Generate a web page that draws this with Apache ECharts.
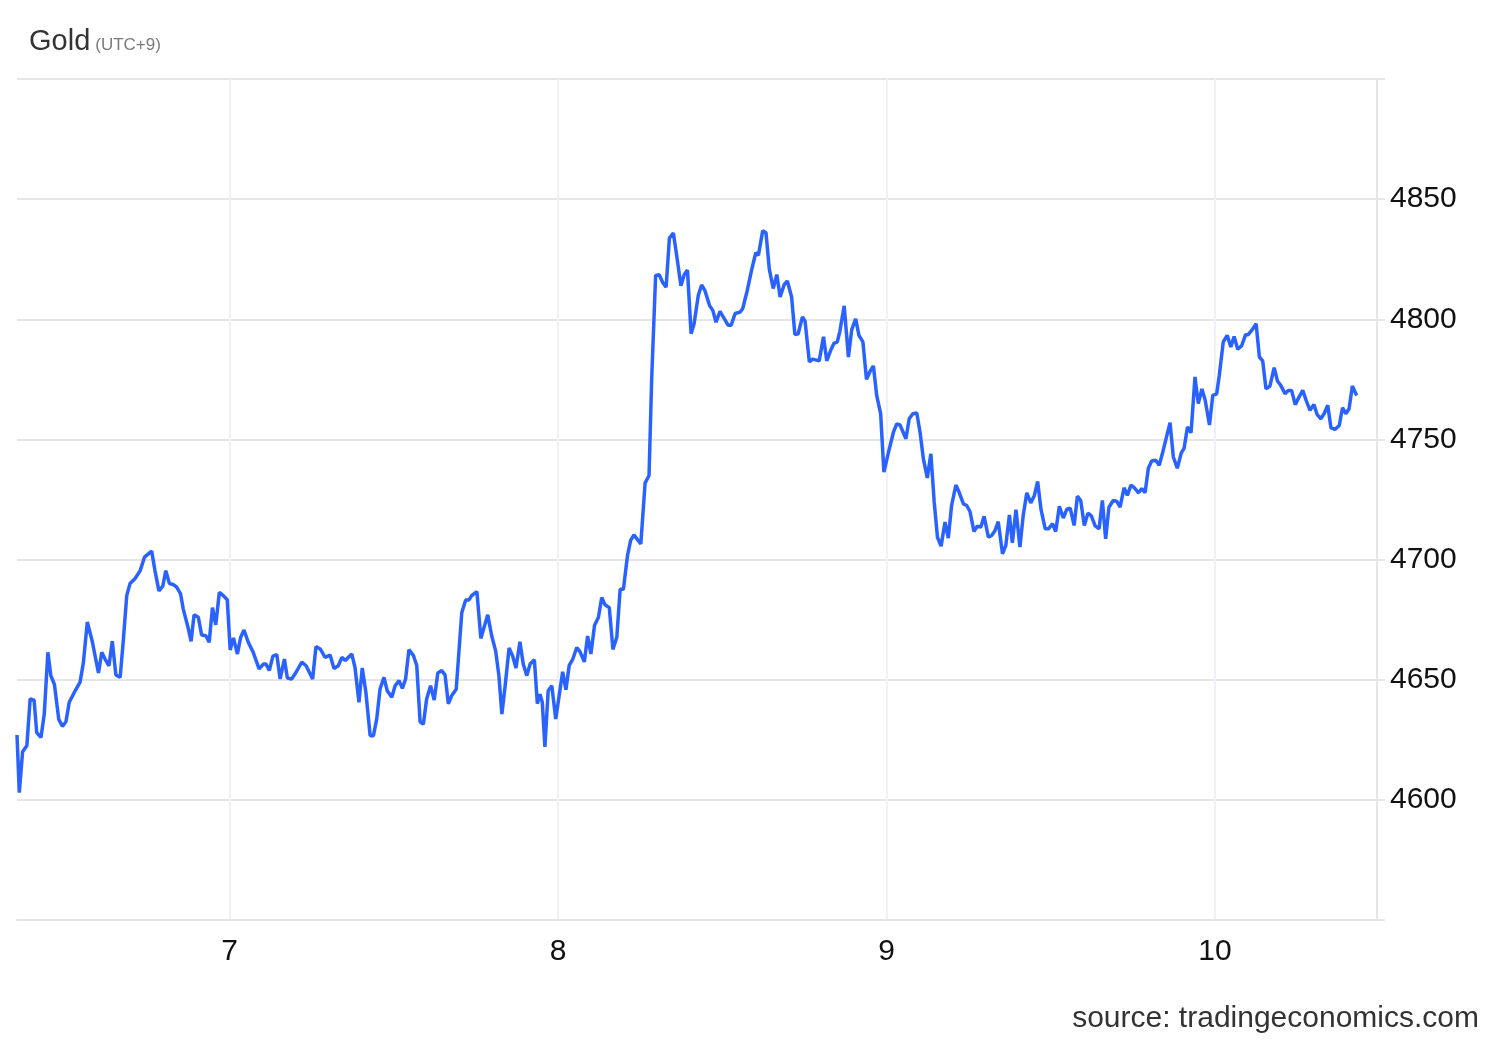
<!DOCTYPE html>
<html>
<head>
<meta charset="utf-8">
<script src="https://cdn.jsdelivr.net/npm/echarts@6/dist/echarts.min.js"></script>
<style>
html,body{margin:0;padding:0;background:#fff;}
#chart{width:1500px;height:1040px;}
</style>
</head>
<body>
<div id="chart"></div>
<script>
// x values: day of month (fractional), y values: gold price
const times = [
6.353,6.360,6.370,6.383,6.393,6.405,6.413,6.426,6.436,6.447,6.456,6.467,6.480,6.491,6.502,6.512,6.530,6.545,6.555,6.567,
6.582,6.601,6.611,6.621,6.633,6.643,6.654,6.667,6.677,6.687,6.697,6.712,6.728,6.741,6.763,6.773,6.785,6.797,6.806,6.817,
6.829,6.839,6.851,6.859,6.875,6.883,6.892,6.905,6.915,6.928,6.938,6.948,6.958,6.969,6.981,6.993,7.002,7.012,7.024,7.034,
7.044,7.057,7.072,7.090,7.103,7.111,7.121,7.132,7.144,7.154,7.167,7.176,7.189,7.202,7.220,7.233,7.253,7.263,7.276,7.291,
7.306,7.318,7.331,7.342,7.352,7.372,7.382,7.394,7.404,7.415,7.428,7.438,7.448,7.458,7.470,7.480,7.494,7.504,7.516,7.526,
7.536,7.546,7.560,7.570,7.580,7.590,7.600,7.612,7.623,7.634,7.646,7.656,7.666,7.676,7.690,7.707,7.719,7.729,7.737,7.753,
7.765,7.786,7.798,7.810,7.820,7.829,7.839,7.851,7.862,7.872,7.884,7.894,7.905,7.915,7.928,7.937,7.945,7.952,7.960,7.970,
7.981,7.993,8.004,8.014,8.024,8.034,8.045,8.057,8.067,8.080,8.090,8.100,8.111,8.123,8.133,8.143,8.156,8.167,8.179,8.189,
8.199,8.211,8.221,8.231,8.252,8.265,8.277,8.285,8.297,8.308,8.319,8.329,8.339,8.351,8.361,8.374,8.384,8.394,8.405,8.414,
8.427,8.437,8.447,8.461,8.471,8.481,8.493,8.506,8.518,8.527,8.539,8.554,8.562,8.576,8.590,8.602,8.610,8.623,8.633,8.643,
8.655,8.666,8.676,8.688,8.698,8.711,8.721,8.731,8.744,8.752,8.765,8.775,8.787,8.795,8.808,8.818,8.830,8.840,8.850,8.858,
8.871,8.884,8.894,8.906,8.916,8.928,8.939,8.950,8.960,8.970,8.982,8.992,9.006,9.021,9.031,9.041,9.059,9.069,9.080,9.092,
9.102,9.112,9.124,9.135,9.145,9.155,9.166,9.178,9.188,9.198,9.211,9.221,9.234,9.244,9.254,9.266,9.276,9.287,9.297,9.310,
9.320,9.330,9.340,9.353,9.363,9.374,9.383,9.394,9.406,9.416,9.427,9.439,9.450,9.460,9.470,9.483,9.493,9.505,9.515,9.526,
9.538,9.549,9.559,9.571,9.581,9.591,9.602,9.613,9.623,9.635,9.647,9.657,9.667,9.677,9.690,9.701,9.711,9.723,9.733,9.744,
9.754,9.767,9.777,9.787,9.797,9.807,9.820,9.830,9.841,9.863,9.873,9.885,9.897,9.906,9.916,9.927,9.939,9.949,9.960,9.970,
9.983,9.993,10.005,10.013,10.025,10.037,10.048,10.058,10.069,10.081,10.093,10.101,10.115,10.125,10.135,10.145,10.155,10.167,10.180,10.190,
10.200,10.213,10.223,10.233,10.244,10.256,10.267,10.279,10.289,10.301,10.311,10.322,10.332,10.343,10.353,10.365,10.378,10.388,10.398,10.408,
10.418,10.431
];
const prices = [
4627,4603,4620,4622.5,4642,4641.5,4628,4626,4635.7,4661.4,4651.7,4648,4633.6,4630.6,4632.5,4640.6,4645.4,4649,4657,4674,
4666,4652.8,4661.4,4658.6,4655.8,4666,4652,4651,4667,4685,4690,4692,4695.4,4701,4703.5,4695.4,4687,4689,4695.4,4690,
4689.6,4688.5,4685.7,4679.5,4671,4666,4677,4676,4668.6,4668.3,4665.6,4680,4672.8,4686.4,4685,4683.3,4662.4,4667.4,4660.7,4667.7,
4670.7,4665.6,4661.4,4654.5,4656.5,4656.5,4653.8,4659.8,4660.4,4650.3,4658.6,4650.7,4650.3,4653,4657.3,4655.8,4650.3,4663.8,4662.8,4659.3,
4660.3,4654.7,4655.8,4659.3,4658,4660.7,4655,4640.6,4654.9,4644.8,4626.7,4626.7,4633.6,4646,4651,4645.4,4642.7,4647.5,4649.6,4646.4,
4650.3,4662.5,4660,4655.8,4632.5,4631.5,4642,4647.5,4641.5,4652.8,4653.8,4652,4640,4643.3,4646,4678,4683.2,4683.2,4685,4686.7,
4667.2,4677,4668.3,4662,4651.7,4635.7,4647.5,4663.2,4659.8,4654.9,4665.8,4656.5,4651.7,4656.5,4658.3,4640,4644,4640.6,4622,4645.4,
4647.5,4633.6,4644,4653.3,4645.8,4656,4658.6,4663.4,4661.6,4657.4,4668.2,4660.7,4672.6,4676,4684.2,4681.2,4680,4662.6,4667.8,4687.6,
4687.6,4701.3,4708,4710.3,4706.5,4731.8,4735,4775,4818.2,4818.5,4815.2,4813.4,4833.8,4835.9,4826.7,4814,4818.5,4820.5,4794,4798,
4810,4814.3,4812,4805.8,4803.7,4798.8,4803.3,4800.3,4797.5,4797.5,4802.4,4803,4804.4,4812,4821,4827.7,4826.7,4836.8,4836,4821,
4812.8,4818.6,4809.3,4814.3,4816,4809.3,4793.6,4794,4801,4799.2,4782.3,4783.4,4783,4782.7,4792.7,4782.7,4787.1,4790,4790.6,4795,
4805.6,4784.3,4795.7,4800.2,4793.3,4790.6,4775,4778.4,4780.6,4768.3,4760.7,4736.4,4744.7,4753,4756.5,4756,4750.3,4758.6,4760.7,4761,
4753,4742,4734,4744,4724,4709.3,4705.6,4715.6,4708.9,4722.5,4731,4728,4723.2,4722.5,4720,4711.7,4713.9,4713.5,4718,4709.3,
4710,4712,4715.8,4702.4,4705.8,4718.6,4707,4720.8,4705.2,4718.3,4727.8,4723.6,4726.7,4732.5,4721,4712.8,4712.8,4714.9,4711.7,4722.2,
4717.3,4721,4721.4,4714.2,4726.4,4724.6,4714.2,4719.3,4718.3,4714,4712.8,4724.6,4708.6,4721.8,4724.6,4724.2,4721.8,4729.9,4726.7,4731,
4729.9,4727.8,4729.5,4727.8,4738,4741,4741.3,4739.2,4744.8,4757,4742.7,4738,4744.3,4746.4,4755.2,4752.8,4776,4764.9,4771,4766.3,
4756,4768.3,4769,4776.7,4790.6,4793.3,4788.5,4792.8,4787.5,4789,4793.6,4793.6,4796,4798.2,4784.3,4782.7,4771.1,4772.2,4779.9,4774.3,
4772.5,4769,4770.4,4770.4,4764.5,4767.7,4770.4,4765.6,4762.1,4764.5,4760.3,4758.6,4760.7,4764.2,4754.8,4754.2,4755.8,4763.2,4760.7,4762.8,
4772.2,4768.3
];
const dayTicks = [7, 8, 9, 10];
const yMin = 4550, yMax = 4900, yStep = 50;
const xMin = 6.353, xMax = 10.493;
const titleMain = 'Gold', titleSub = '(UTC+9)';
const sourceText = 'source: tradingeconomics.com';

const seriesData = times.map((t, i) => [t, prices[i]]);
const FONT = '"Liberation Sans", Arial, Helvetica, sans-serif';

const chart = echarts.init(document.getElementById('chart'), null, {renderer: 'canvas'});
chart.setOption({
  animation: false,
  backgroundColor: '#ffffff',
  textStyle: {fontFamily: FONT},
  title: [{
    left: 24, top: 22,
    text: '{a|' + titleMain + '} {b|' + titleSub + '}',
    textStyle: {
      fontWeight: 'normal',
      rich: {
        a: {fontFamily: FONT, fontSize: 29, fontWeight: 'normal', color: '#333333'},
        b: {fontFamily: FONT, fontSize: 17, fontWeight: 'normal', color: '#7a7a7a', padding: [8, 0, 0, 0]}
      }
    }
  }, {
    right: 16, top: 999,
    text: sourceText,
    textStyle: {fontFamily: FONT, fontSize: 30, fontWeight: 'normal', color: '#333333'}
  }],
  grid: {left: 17, right: 123, top: 79, bottom: 120, containLabel: false},
  xAxis: {
    type: 'value',
    min: xMin, max: xMax,
    axisLine: {show: true, lineStyle: {color: '#e6e6e6', width: 2}},
    axisTick: {show: false, customValues: dayTicks},
    axisLabel: {customValues: dayTicks, fontSize: 30, color: '#111111', margin: 17, fontFamily: FONT},
    splitLine: {show: true, lineStyle: {color: '#eef2f6', width: 2}}
  },
  yAxis: {
    type: 'value',
    position: 'right',
    min: yMin, max: yMax, interval: yStep,
    axisLine: {show: true, lineStyle: {color: '#e6e6e6', width: 2}},
    axisTick: {show: true, length: 8, lineStyle: {color: '#e6e6e6', width: 2}},
    axisLabel: {
      fontSize: 30, color: '#111111', margin: 13, fontFamily: FONT, padding: [5, 0, 0, 0],
      formatter: v => (v === yMin || v === yMax) ? '' : String(v)
    },
    splitLine: {show: true, lineStyle: {color: '#e6e6e6', width: 2}}
  },
  series: [{
    type: 'line',
    data: seriesData,
    showSymbol: false,
    symbol: 'none',
    lineStyle: {color: '#2962ff', width: 3.5},
    itemStyle: {color: '#2962ff'},
    z: 5
  }]
});
</script>
</body>
</html>
